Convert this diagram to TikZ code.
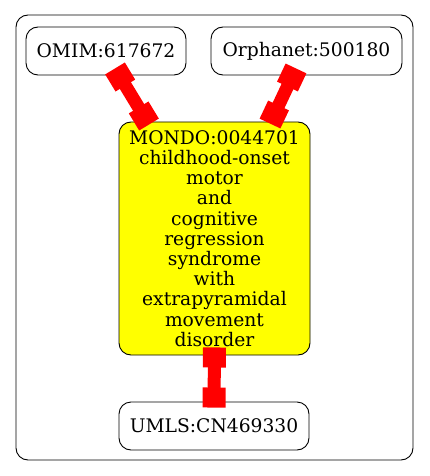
\documentclass[tikz,border=0pt]{standalone}
\usepackage{fontspec}
\setmainfont{DejaVu Serif}
\usetikzlibrary{arrows.meta}
\definecolor{mondoyellow}{RGB}{255,255,0}

\tikzset{
  term/.style={draw=black, line width=0.9pt, rounded corners=12pt, inner sep=0pt,
    align=center, font=\fontsize{18.7}{20.2}\selectfont},
  link/.style={draw=red, line width=13pt,
    {Square[length=20pt,width=23pt]}-{Square[length=20pt,width=23pt]}}
}

\begin{document}
\begin{tikzpicture}[x=1pt, y=-1pt]
    \useasboundingbox (0,0) rectangle (429,476);
    \draw[line width=0.9pt, rounded corners=12pt] (16,15) rectangle (413,460);

    \node[term, minimum width=160pt, minimum height=48pt] (omim) at (106, 51) {OMIM:617672};
    \node[term, minimum width=191pt, minimum height=48pt] (orpha) at (306.5, 51) {Orphanet:500180};
    \node[term, fill=mondoyellow, minimum width=191pt, minimum height=233pt] (mondo) at (214.5, 238.5)
        {MONDO:0044701\\childhood-onset\\motor\\and\\cognitive\\regression\\syndrome\\with\\extrapyramidal\\movement\\disorder};
    \node[term, minimum width=190pt, minimum height=48pt] (umls) at (214, 426) {UMLS:CN469330};

    \draw[link] ([shift={(9,-7)}]omim.south) -- ([shift={(-65.5,3)}]mondo.north);
    \draw[link] ([shift={(-10.5,-7)}]orpha.south) -- ([shift={(55.5,2)}]mondo.north);
    \draw[link] ([shift={(0,-8)}]mondo.south) -- ([shift={(0,6)}]umls.north);
\end{tikzpicture}
\end{document}
